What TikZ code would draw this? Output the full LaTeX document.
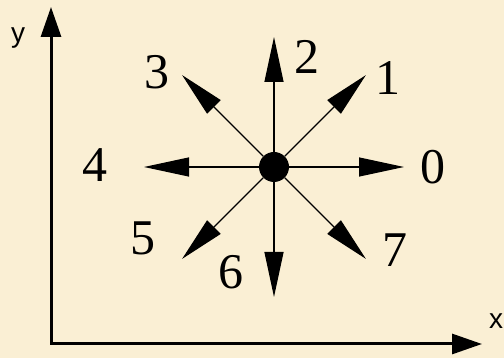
\documentclass[tikz,border=0pt]{standalone}
\usepackage{fontspec}
\setmainfont{Liberation Serif}
\setsansfont{Liberation Sans}
\usetikzlibrary{arrows.meta}
\definecolor{paper}{HTML}{FAEFD4}

\begin{document}
\begin{tikzpicture}[x=1pt, y=1pt,
  dirarr/.style={-{Triangle[length=45pt, width=19pt]}, line width=1.2pt},
  axis/.style={{Triangle[length=30pt, width=20pt]}-{Triangle[length=30pt, width=20pt]}, line width=3pt, line join=miter},
  num/.style={font=\fontsize{50}{52}\selectfont, inner sep=0pt},
  axlbl/.style={font=\sffamily\fontsize{28}{30}\selectfont, inner sep=0pt}]

\fill[paper] (0,0) rectangle (504,358);
\useasboundingbox (0,0) rectangle (504,358);

% axes
\coordinate (orig) at (51,14);
\coordinate (ytop) at (51,351);
\coordinate (xend) at (482,14);
\draw[axis] (ytop) -- (orig) -- (xend);
\node[axlbl] (ylbl) at (18,320) {y};
\node[axlbl] (xlbl) at (496,37) {x};

% the eight directions
\node[circle, fill=black, minimum size=30pt, inner sep=0pt] (hub) at (274,191) {};
\foreach \i in {0,...,7} {
  \path (hub.center) ++(\i*45:130) coordinate (d\i);
  \draw[dirarr] (hub) -- (d\i);
}

\foreach \i/\lx/\ly in {0/433/191, 1/388/280, 2/307/301, 3/157/286,
                        4/95/193, 5/143/120, 6/231/86, 7/395/108}
  \node[num] (n\i) at (\lx,\ly) {\i};
\end{tikzpicture}
\end{document}
